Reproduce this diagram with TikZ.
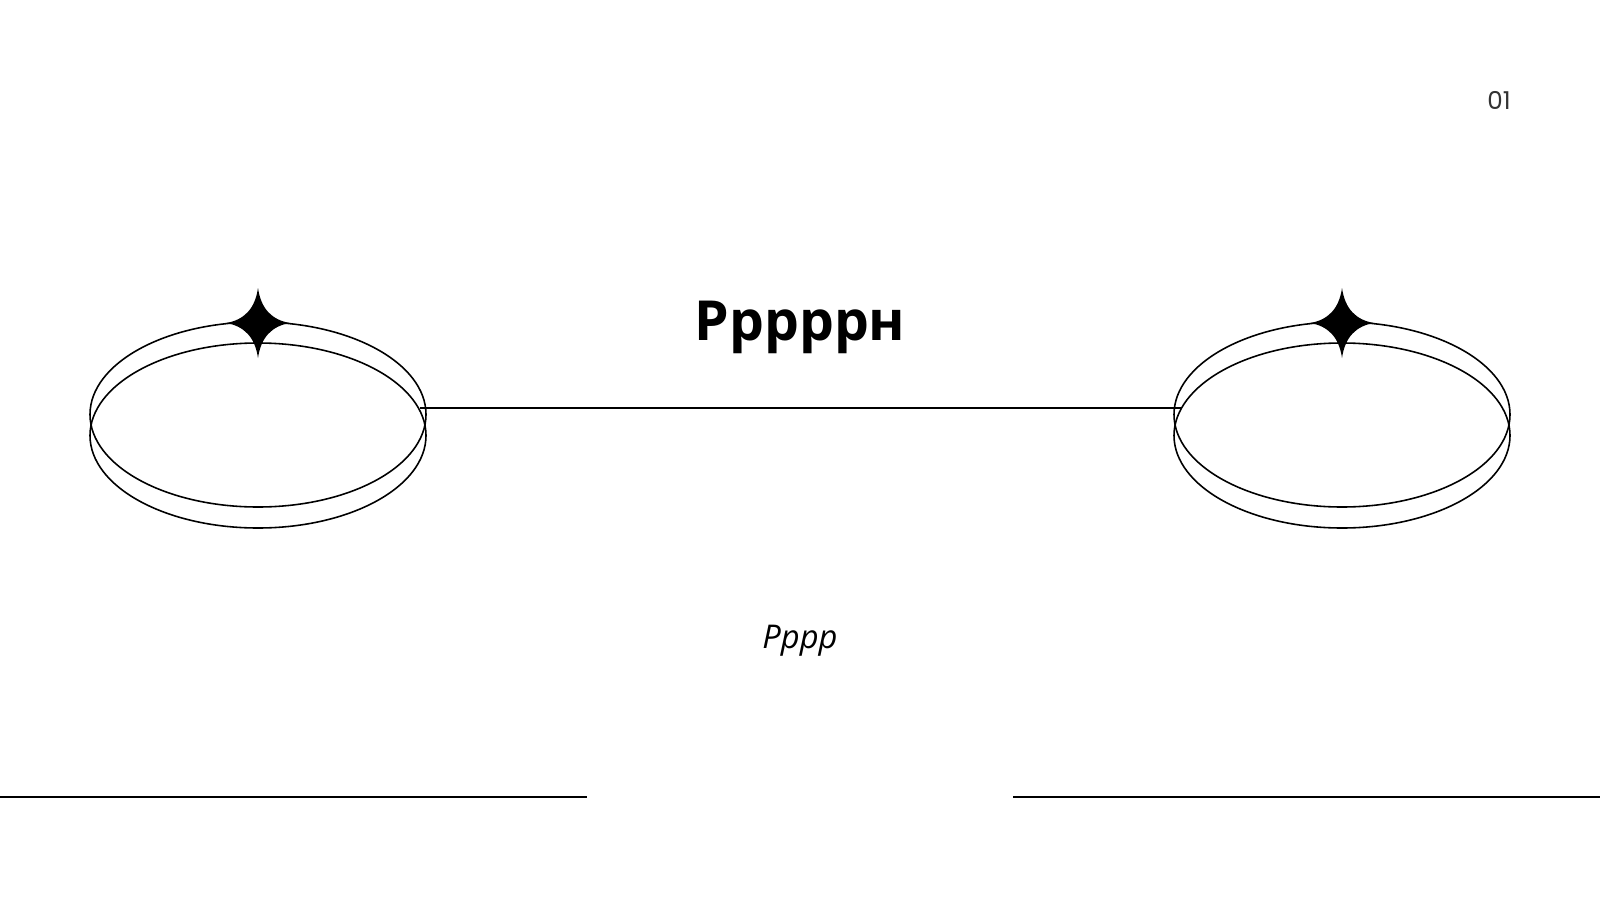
\documentclass[tikz,border=0pt]{standalone}
\usepackage{fontspec}
\setmainfont{Open Sans}
\newfontfamily\numfont{Poppins}
\usepackage{tikz}
\usetikzlibrary{calc}
\usepackage{xcolor}
\definecolor{numgray}{HTML}{333333}
\tikzstyle{rim}=[draw=black, line width=0.45pt]
\tikzstyle{rule}=[draw=black, line width=0.6pt]
\newcommand{\ringSparkle}[2]{
	\draw[rim] ($#1+(0,-10.5)$) ellipse [x radius=168, y radius=92.5];
	\draw[rim] ($#1+(0,10.5)$) ellipse [x radius=168, y radius=92.5];
	\coordinate (#2) at ($#1+(0,-102)$);
	\fill (#2) ++(0,-35) .. controls ($(#2)+(3,-14)$) and ($(#2)+(14,-3)$) .. ($(#2)+(32,0)$)
		.. controls ($(#2)+(14,3)$) and ($(#2)+(3,14)$) .. ($(#2)+(0,35)$)
		.. controls ($(#2)+(-3,14)$) and ($(#2)+(-14,3)$) .. ($(#2)+(-32,0)$)
		.. controls ($(#2)+(-14,-3)$) and ($(#2)+(-3,-14)$) .. cycle;
}

\begin{document}
\begin{tikzpicture}[x=0.01cm,y=-0.01cm]
	\useasboundingbox[fill=white] (0,0) rectangle (1600,900);
	\ringSparkle{(258,425)}{starL}
	\ringSparkle{(1342,425)}{starR}
	\coordinate (linkL) at (420,408);
	\coordinate (linkR) at (1181,408);
	\draw[rule] (linkL) -- (linkR);
	\node[anchor=base, inner sep=0] (title) at (800,340) {\fontsize{15.7}{18}\selectfont\bfseries Pppppн};
	\node[anchor=base, inner sep=0] (subtitle) at (800,648) {\fontsize{9.3}{11}\selectfont\itshape Pppp};
	\node[anchor=base, inner sep=0, text=numgray] (pagenum) at (1499,110) {\numfont\fontsize{7}{8}\selectfont 01};
	\coordinate (ruleLa) at (0,797);
	\coordinate (ruleLb) at (587,797);
	\coordinate (ruleRa) at (1013,797);
	\coordinate (ruleRb) at (1600,797);
	\draw[rule] (ruleLa) -- (ruleLb);
	\draw[rule] (ruleRa) -- (ruleRb);
\end{tikzpicture}
\end{document}
